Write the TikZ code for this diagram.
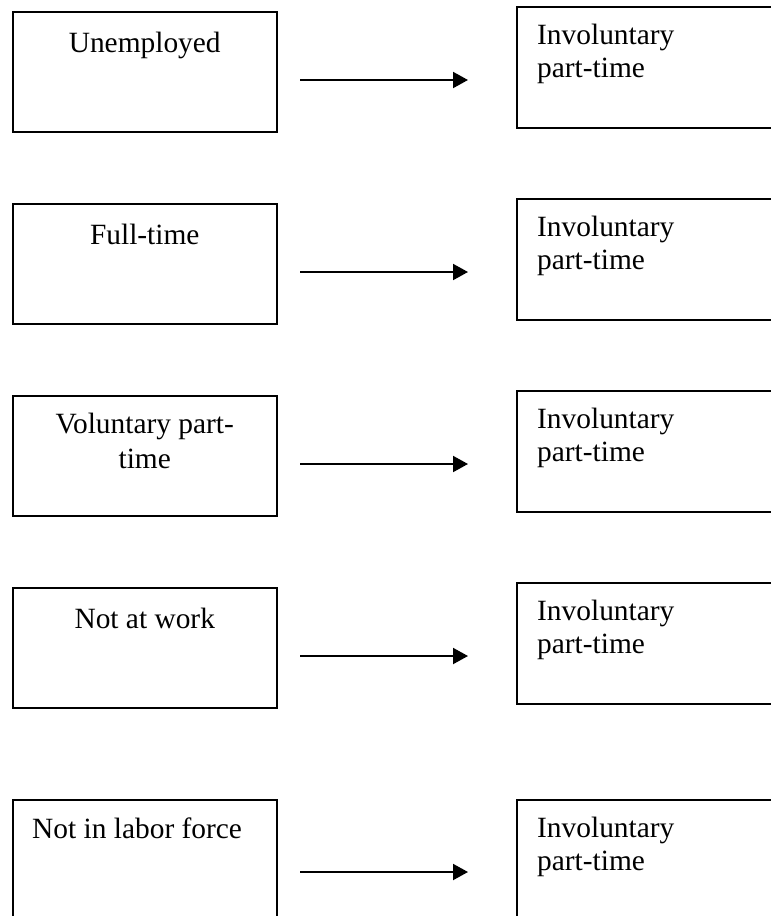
\documentclass[tikz,border=0pt]{standalone}
\usepackage{fontspec}
\setmainfont{Liberation Serif}
\usetikzlibrary{arrows.meta}
\begin{document}
\begin{tikzpicture}[x=1pt,y=-1pt,
  lbox/.style={draw=black,line width=2pt,minimum width=264.5pt,minimum height=120pt,inner sep=0pt,outer sep=0pt},
  rbox/.style={draw=black,line width=2pt,minimum width=300pt,minimum height=121pt,inner sep=0pt,outer sep=0pt},
  lbl/.style={inner sep=0pt,font=\fontsize{29.4}{33.5}\selectfont},
  arr/.style={line width=2pt,-{Triangle[length=15pt,width=16pt]}}]
\useasboundingbox (0,0) rectangle (771,916);
\clip (0,0) rectangle (771,916);
% left boxes
\node[lbox] (L1) at (144.75,72) {};
\node[lbox] (L2) at (144.75,264) {};
\node[lbox] (L3) at (144.75,456) {};
\node[lbox] (L4) at (144.75,648) {};
\node[lbox] (L5) at (144.75,860) {};
% right boxes
\node[rbox] (R1) at (667,67.5) {};
\node[rbox] (R2) at (667,259.5) {};
\node[rbox] (R3) at (667,451.5) {};
\node[rbox] (R4) at (667,643.5) {};
\node[rbox] (R5) at (667,860.5) {};
% left labels
\node[lbl,anchor=base] (t1) at (144.75,52) {Unemployed};
\node[lbl,anchor=base] (t2) at (144.75,244) {Full-time};
\node[lbl,anchor=base] (t3a) at (144.75,433) {Voluntary part-};
\node[lbl,anchor=base] (t3b) at (144.75,468) {time};
\node[lbl,anchor=base] (t4) at (144.75,628) {Not at work};
\node[lbl,anchor=base west] (t5) at (32,838) {Not in labor force};
% right labels
\node[lbl,anchor=base west] (u1a) at (537,44) {Involuntary};
\node[lbl,anchor=base west] (u1b) at (537,77) {part-time};
\node[lbl,anchor=base west] (u2a) at (537,236) {Involuntary};
\node[lbl,anchor=base west] (u2b) at (537,269) {part-time};
\node[lbl,anchor=base west] (u3a) at (537,428) {Involuntary};
\node[lbl,anchor=base west] (u3b) at (537,461) {part-time};
\node[lbl,anchor=base west] (u4a) at (537,620) {Involuntary};
\node[lbl,anchor=base west] (u4b) at (537,653) {part-time};
\node[lbl,anchor=base west] (u5a) at (537,837) {Involuntary};
\node[lbl,anchor=base west] (u5b) at (537,870) {part-time};
% arrows
\coordinate (s1) at (300,80);  \coordinate (e1) at (468,80);
\coordinate (s2) at (300,272); \coordinate (e2) at (468,272);
\coordinate (s3) at (300,464); \coordinate (e3) at (468,464);
\coordinate (s4) at (300,656); \coordinate (e4) at (468,656);
\coordinate (s5) at (300,872); \coordinate (e5) at (468,872);
\draw[arr] (s1) -- (e1);
\draw[arr] (s2) -- (e2);
\draw[arr] (s3) -- (e3);
\draw[arr] (s4) -- (e4);
\draw[arr] (s5) -- (e5);
\end{tikzpicture}
\end{document}
